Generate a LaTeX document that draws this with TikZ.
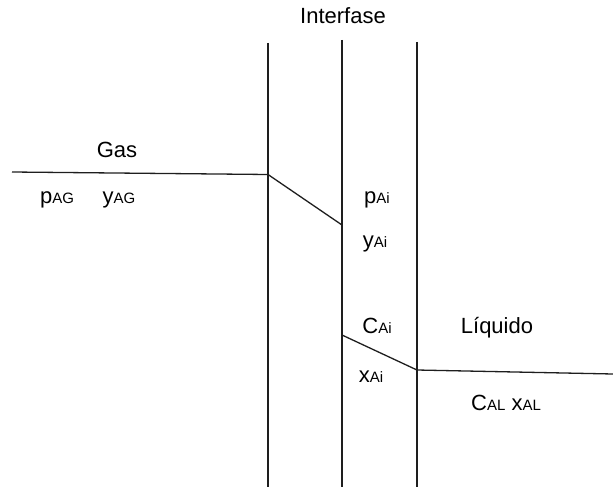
\documentclass[tikz,border=0pt]{standalone}
\usepackage{fontspec}
\setmainfont{Liberation Sans}
\usetikzlibrary{positioning}
\definecolor{ink}{HTML}{1E1E1E}
\newcommand{\lbl}{\fontsize{22}{26}\selectfont}
\newcommand{\sub}[1]{{\fontsize{15}{18}\selectfont #1}}
\begin{document}
\begin{tikzpicture}[x=1pt,y=-1pt,
  wall/.style={ink,line width=1.4pt},
  prof/.style={ink,line width=1.3pt},
  txt/.style={anchor=base,inner sep=0pt,font=\lbl}]
  \useasboundingbox (0,0) rectangle (613,487);
  % interface walls
  \coordinate (wlT) at (268,43);  \coordinate (wlB) at (268,487);
  \coordinate (wmT) at (342,40);  \coordinate (wmB) at (342,487);
  \coordinate (wrT) at (417,42);  \coordinate (wrB) at (417,487);
  \draw[wall] (wlT)--(wlB);
  \draw[wall] (wmT)--(wmB);
  \draw[wall] (wrT)--(wrB);
  % concentration profile
  \coordinate (g0) at (12,172);
  \coordinate (g1) at (268,174.5);
  \coordinate (g2) at (342,225);
  \coordinate (l0) at (342,335);
  \coordinate (l1) at (417,370);
  \coordinate (l2) at (613,374);
  \draw[prof] (g0)--(g1)--(g2);
  \draw[prof] (l0)--(l1)--(l2);
  % labels
  \node[txt] (inter) at (343,24) {Interfase};
  \node[txt] (gas) at (117,157) {Gas};
  \node[txt] (pAG) at (57,203) {p\sub{AG}};
  \node[txt] (yAG) at (119,203) {y\sub{AG}};
  \node[txt] (pAi) at (377,203) {p\sub{Ai}};
  \node[txt] (yAi) at (375,247) {y\sub{Ai}};
  \node[txt] (CAi) at (377,333) {C\sub{Ai}};
  \node[txt] (xAi) at (371,382) {x\sub{Ai}};
  \node[txt] (liq) at (497,333) {Líquido};
  \node[txt] (CAL) at (506,410) {C\sub{AL} x\sub{AL}};
\end{tikzpicture}
\end{document}
